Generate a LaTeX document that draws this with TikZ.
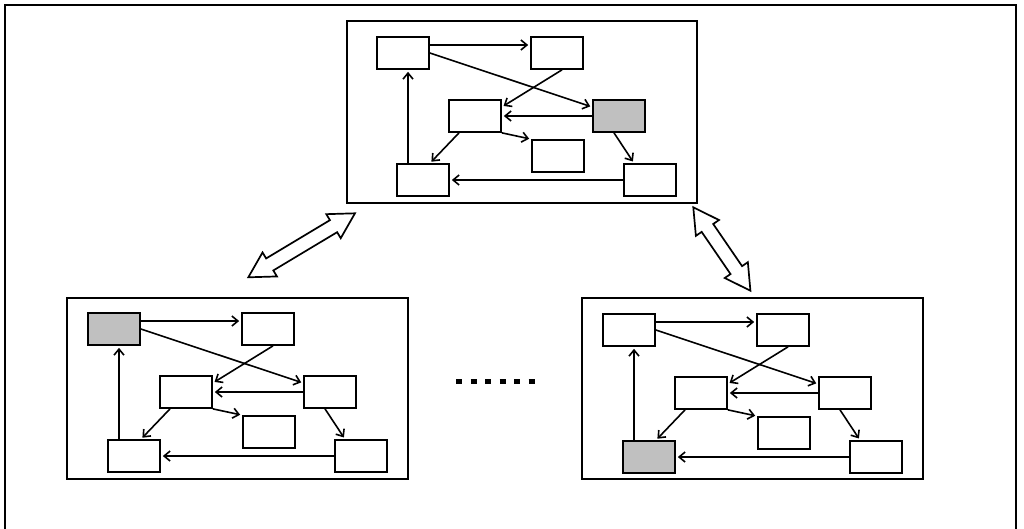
\documentclass[tikz,border=0pt]{standalone}
\usetikzlibrary{arrows.meta}
\definecolor{boxgray}{RGB}{192,192,192}
\newcommand\mycluster[6]{%
  \begin{scope}[shift={(#2,#3)}]
    \node[#4] (#1A) at (403,53) {};
    \node[bx] (#1B) at (557,53) {};
    \node[bx] (#1C) at (475,116) {};
    \node[#5] (#1D) at (619,116) {};
    \node[bx] (#1E) at (558,156) {};
    \node[#6] (#1F) at (423,180) {};
    \node[bx] (#1G) at (650,180) {};
  \end{scope}
  \draw[link] ([yshift=8pt]#1A.east) -- ([yshift=8pt]#1B.west);
  \draw[link] (#1A.east) -- ([yshift=9pt]#1D.west);
  \draw[link] ([xshift=5pt]#1B.south) -- ([yshift=9pt]#1C.east);
  \draw[link] (#1D.west) -- (#1C.east);
  \draw[link] (#1C.south east) -- (#1E.north west);
  \draw[link] ([xshift=-16pt]#1C.south) -- ([xshift=7pt]#1F.north);
  \draw[link] ([xshift=-5pt]#1D.south) -- ([xshift=-16pt]#1G.north);
  \draw[link] (#1G.west) -- (#1F.east);
  \draw[link] ([xshift=-15pt]#1F.north) -- ([xshift=5pt]#1A.south);
}
\newcommand\mybigarrow[3]{%
  \begin{scope}[shift={(#1)}, rotate=#2]
    \pgfmathsetmacro\myL{#3}
    \pgfmathsetmacro\myLa{#3-25}
    \draw[bigarrow] (0,0) -- (25,14) -- (25,7) -- (\myLa,7) -- (\myLa,14) -- (\myL,0)
      -- (\myLa,-14) -- (\myLa,-7) -- (25,-7) -- (25,-14) -- cycle;
  \end{scope}
}
\begin{document}
\begin{tikzpicture}[x=1pt,y=-1pt,
  bx/.style={draw, line width=1.7pt, minimum width=52pt, minimum height=32pt, inner sep=0pt, fill=white},
  gbx/.style={bx, fill=boxgray},
  frm/.style={draw, line width=1.7pt, inner sep=0pt},
  link/.style={line width=1.6pt, -{Straight Barb[length=6pt,width=10pt]}, shorten >=2pt},
  bigarrow/.style={draw, line width=1.7pt, line join=miter, fill=white}]
  \useasboundingbox (0,0) rectangle (1024,528);
  \draw[line width=2.2pt] (5,530) -- (5,5) -- (1016,5) -- (1016,530);

  \node[frm, minimum width=350pt, minimum height=182pt] (topframe) at (522,112) {};
  \node[frm, minimum width=341pt, minimum height=181pt] (leftframe) at (237.5,388.5) {};
  \node[frm, minimum width=341pt, minimum height=181pt] (rightframe) at (752.5,388.5) {};

  \mycluster{t}{0}{0}{bx}{gbx}{bx}
  \mycluster{l}{-289}{276}{gbx}{bx}{bx}
  \mycluster{r}{226}{277}{bx}{bx}{gbx}

  \coordinate (la1) at (248.3,277.3);
  \coordinate (ra1) at (693.3,207.3);
  \mybigarrow{la1}{30.96}{124.4}
  \mybigarrow{ra1}{-55.6}{101.1}

  \draw[line width=5pt, dash pattern=on 6pt off 8.5pt] (456,381) -- (535,381);
\end{tikzpicture}
\end{document}
